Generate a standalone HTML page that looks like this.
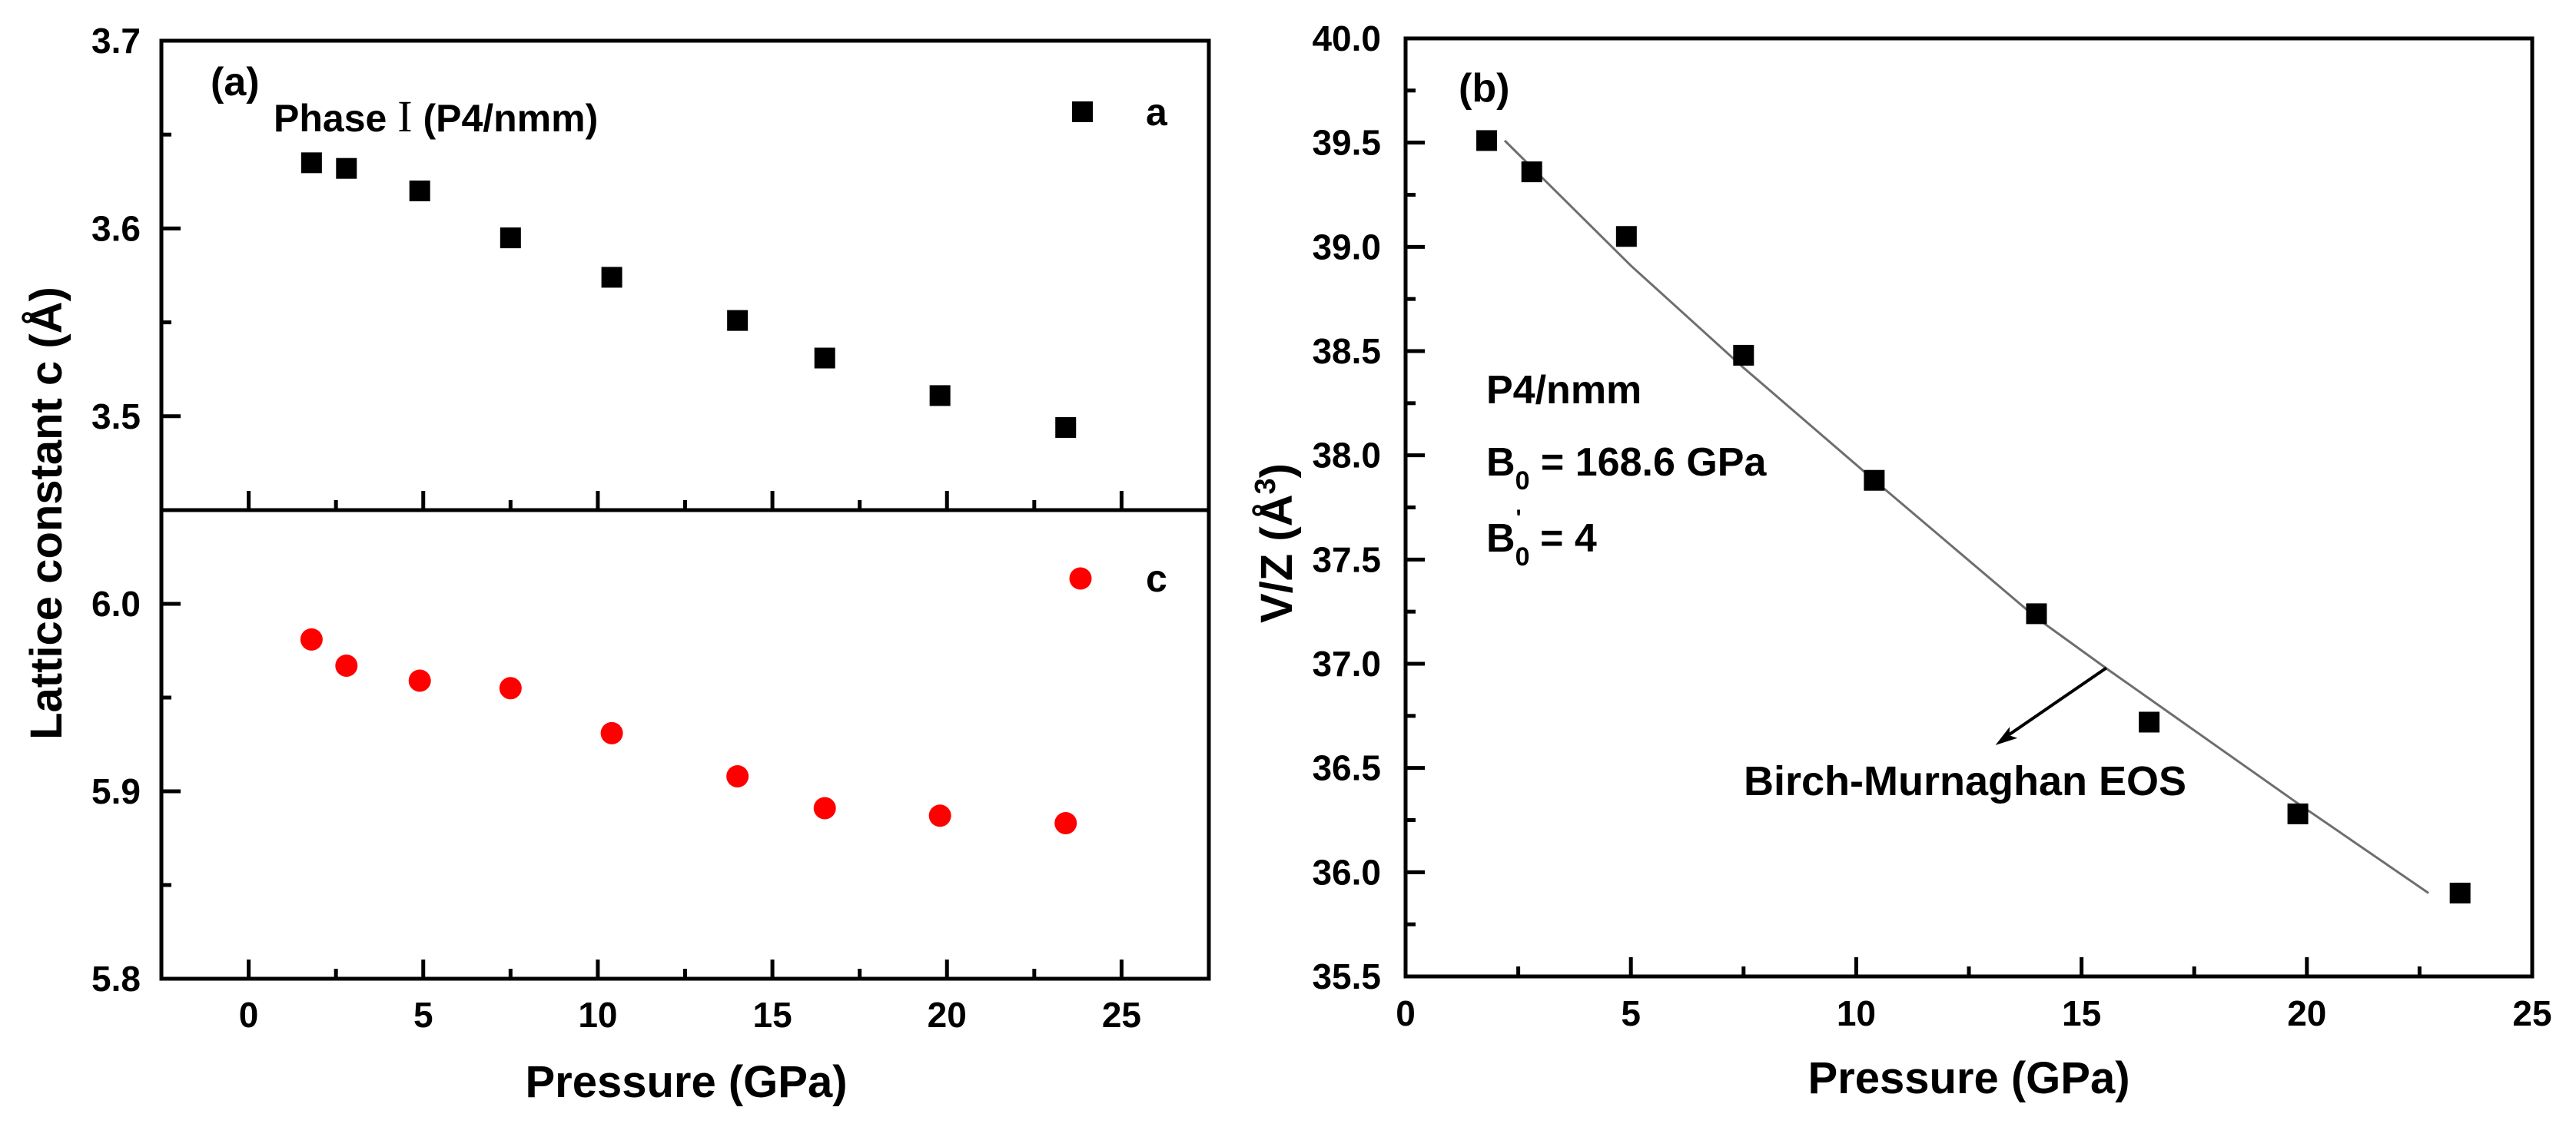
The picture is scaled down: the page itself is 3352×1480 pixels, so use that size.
<!DOCTYPE html>
<html>
<head>
<meta charset="utf-8">
<style>
html,body{margin:0;padding:0;background:#fff;}
svg{display:block;}
text{font-family:"Liberation Sans",Arial,sans-serif;font-weight:bold;fill:#000;}
</style>
</head>
<body>
<svg id="chart" width="3352" height="1480" viewBox="0 0 3352 1480" xmlns="http://www.w3.org/2000/svg"></svg>
<script>
// ---- Panel (a) data ----
const pressA = [1.8, 2.8, 4.9, 7.5, 10.4, 14.0, 16.5, 19.8, 23.4];
const latA = [3.635, 3.632, 3.620, 3.595, 3.574, 3.551, 3.531, 3.511, 3.494];
const latC = [5.981, 5.967, 5.959, 5.955, 5.931, 5.908, 5.891, 5.887, 5.883];
const xTicksA = [0, 5, 10, 15, 20, 25];
const yTicksTop = [3.5, 3.6, 3.7];
const yTicksBot = [5.8, 5.9, 6.0];
// ---- Panel (b) data ----
const pressB = [1.8, 2.8, 4.9, 7.5, 10.4, 14.0, 16.5, 19.8, 23.4];
const volB = [39.51, 39.36, 39.05, 38.48, 37.88, 37.24, 36.72, 36.28, 35.90];
const fitP = [2.2, 5.0, 7.5, 10.4, 14.0, 15.6, 19.8, 22.7];
const fitV = [39.51, 38.91, 38.42, 37.88, 37.22, 36.97, 36.33, 35.90];
const xTicksB = [0, 5, 10, 15, 20, 25];
const yTicksB = [35.5, 36.0, 36.5, 37.0, 37.5, 38.0, 38.5, 39.0, 39.5, 40.0];

const NS = "http://www.w3.org/2000/svg";
const svg = document.getElementById("chart");
function mk(tag, attrs, parent) {
  const e = document.createElementNS(NS, tag);
  for (const k in attrs) e.setAttribute(k, attrs[k]);
  (parent || svg).appendChild(e);
  return e;
}
function txt(s, x, y, size, anchor, parent) {
  const t = mk("text", {x: x, y: y, "font-size": size, "text-anchor": anchor || "start"}, parent);
  t.textContent = s;
  return t;
}

// ---- axis functions ----
const AL = 210, AR = 1573, ATop = 53, AMid = 664, ABot = 1274;
const xA = p => AL + (p - (-2.5)) / 30 * (AR - AL);
const yTop = v => ATop + (3.7 - v) / 0.25 * (AMid - ATop);
const yBot = v => AMid + (6.05 - v) / 0.25 * (ABot - AMid);
const BL = 1829, BR = 3295, BT = 50, BB = 1271;
const xB = p => BL + p / 25 * (BR - BL);
const yB = v => BT + (40 - v) / 4.5 * (BB - BT);

// ===== Panel (a) =====
const gA = mk("g", {});


const frameA = mk("rect", {x: AL, y: ATop, width: AR - AL, height: ABot - ATop, fill: "none", stroke: "#000", "stroke-width": 5}, gA);


const divA = mk("line", {x1: AL, x2: AR, y1: AMid, y2: AMid, stroke: "#000", "stroke-width": 5}, gA);



for (let p = -2.5; p <= 27.5; p += 2.5) {
  const major = xTicksA.includes(p);
  const len = major ? 25 : 13;
  if (p <= -2.5 || p >= 27.5) continue;
  mk("line", {x1: xA(p), x2: xA(p), y1: ABot, y2: ABot - len, stroke: "#000", "stroke-width": 5}, gA);
  mk("line", {x1: xA(p), x2: xA(p), y1: AMid, y2: AMid - len, stroke: "#000", "stroke-width": 5}, gA);
}
xTicksA.forEach(p => {
  const t = txt(String(p), xA(p), 1337, 46, "middle", gA);
  
  
});
for (let v = 3.45; v <= 3.7001; v += 0.05) {
  const major = yTicksTop.some(m => Math.abs(m - v) < 1e-6);
  if (Math.abs(v - 3.45) < 1e-6) continue;
  mk("line", {x1: AL, x2: AL + (major ? 25 : 13), y1: yTop(v), y2: yTop(v), stroke: "#000", "stroke-width": 5}, gA);
}
yTicksTop.forEach(v => {
  const t = txt(v.toFixed(1), 183, yTop(v) + 16, 46, "end", gA);
  
  
});
for (let v = 5.8; v <= 6.0501; v += 0.05) {
  const major = yTicksBot.some(m => Math.abs(m - v) < 1e-6);
  if (Math.abs(v - 6.05) < 1e-6 || Math.abs(v - 5.8) < 1e-6) continue;
  mk("line", {x1: AL, x2: AL + (major ? 25 : 13), y1: yBot(v), y2: yBot(v), stroke: "#000", "stroke-width": 5}, gA);
}
yTicksBot.forEach(v => {
  const t = txt(v.toFixed(1), 183, yBot(v) + 16, 46, "end", gA);
  
  
});
pressA.forEach((p, i) => {
  const r = mk("rect", {x: xA(p) - 13.5, y: yTop(latA[i]) - 13.5, width: 27, height: 27, fill: "#000"}, gA);
  
  
  const c = mk("circle", {cx: xA(p), cy: yBot(latC[i]), r: 14.5, fill: "#ff0000"}, gA);
  
  
});
const lgA = mk("rect", {x: 1395, y: 132, width: 27, height: 27, fill: "#000"}, gA);


const lgAt = txt("a", 1491, 163, 50, "start", gA);


const lgC = mk("circle", {cx: 1406, cy: 753, r: 14.5, fill: "#ff0000"}, gA);


const lgCt = txt("c", 1491, 770, 50, "start", gA);


const la = txt("(a)", 274, 124, 52, "start", gA);


const ph = mk("text", {x: 356, y: 171, "font-size": 50}, gA);


ph.innerHTML = 'Phase <tspan font-family="Liberation Serif, serif" font-weight="normal" font-size="58">I</tspan> (P4/nmm)';
const xtA = txt("Pressure (GPa)", 893, 1428, 58, "middle", gA);


const ytA = mk("text", {x: 0, y: 0, "font-size": 58, "text-anchor": "middle", transform: "translate(80,668) rotate(-90)"}, gA);
ytA.textContent = "Lattice constant c (Å)";



// ===== Panel (b) =====
const gB = mk("g", {});


const frameB = mk("rect", {x: BL, y: BT, width: BR - BL, height: BB - BT, fill: "none", stroke: "#000", "stroke-width": 5}, gB);


for (let p = 2.5; p < 25; p += 2.5) {
  const major = xTicksB.includes(p);
  mk("line", {x1: xB(p), x2: xB(p), y1: BB, y2: BB - (major ? 25 : 13), stroke: "#000", "stroke-width": 5}, gB);
}
xTicksB.forEach(p => {
  const t = txt(String(p), xB(p), 1335, 46, "middle", gB);
  
  
});
for (let v = 35.75; v < 40; v += 0.25) {
  const major = yTicksB.some(m => Math.abs(m - v) < 1e-6);
  mk("line", {x1: BL, x2: BL + (major ? 25 : 13), y1: yB(v), y2: yB(v), stroke: "#000", "stroke-width": 5}, gB);
}
yTicksB.forEach(v => {
  const t = txt(v.toFixed(1), 1797, yB(v) + 16, 46, "end", gB);
  
  
});
const fitPts = fitP.map((p, i) => xB(p).toFixed(1) + "," + yB(fitV[i]).toFixed(1)).join(" ");
const fit = mk("polyline", {points: fitPts, fill: "none", stroke: "#6e6e6e", "stroke-width": 3}, gB);


pressB.forEach((p, i) => {
  const r = mk("rect", {x: xB(p) - 13.5, y: yB(volB[i]) - 13.5, width: 27, height: 27, fill: "#000"}, gB);
  
  
});
const ax1 = xB(15.55), ay1 = yB(36.98), ax2 = xB(13.09), ay2 = yB(36.61);
const arr = mk("line", {x1: ax1, y1: ay1, x2: ax2 + 14, y2: ay2 - 11, stroke: "#000", "stroke-width": 4}, gB);


const ang = Math.atan2(ay2 - ay1, ax2 - ax1);
const hx = (l, a) => ax2 - l * Math.cos(ang + a), hy = (l, a) => ay2 - l * Math.sin(ang + a);
const head = mk("polygon", {points: `${ax2},${ay2} ${hx(30, 0.3)},${hy(30, 0.3)} ${hx(22, 0)},${hy(22, 0)} ${hx(30, -0.3)},${hy(30, -0.3)}`, fill: "#000"}, gB);


const lb = txt("(b)", 1898, 132, 52, "start", gB);


const t1 = txt("P4/nmm", 1934, 525, 52, "start", gB);


const t2 = mk("text", {x: 1934, y: 619, "font-size": 52}, gB);


t2.innerHTML = 'B<tspan font-size="34" dy="18">0</tspan><tspan dy="-18"> = 168.6 GPa</tspan>';
const t3 = mk("text", {x: 1934, y: 718, "font-size": 52}, gB);


t3.innerHTML = 'B<tspan font-size="34" dy="18">0</tspan><tspan font-size="30" dx="-18" dy="-52">\'</tspan><tspan dy="34" dx="10"> = 4</tspan>';
const t4 = txt("Birch-Murnaghan EOS", 2269, 1035, 54, "start", gB);


const xtB = txt("Pressure (GPa)", 2562, 1423, 58, "middle", gB);


const ytB = mk("text", {x: 0, y: 0, "font-size": 58, "text-anchor": "middle", transform: "translate(1681,707) rotate(-90)"}, gB);


ytB.innerHTML = 'V/Z (Å<tspan font-size="38" dy="-22">3</tspan><tspan dy="22">)</tspan>';
</script>
</body>
</html>
